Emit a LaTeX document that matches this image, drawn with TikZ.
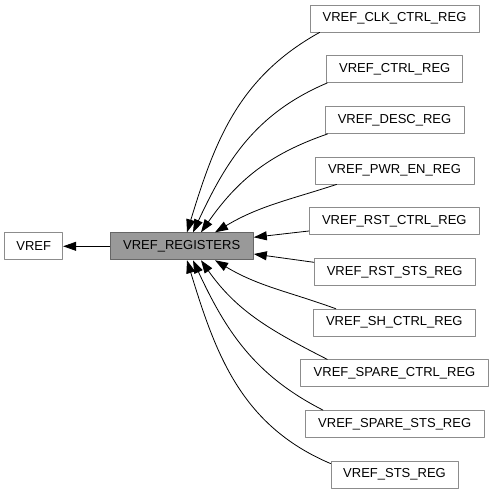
\documentclass[tikz,border=0pt]{standalone}
\usepackage{fontspec}
\setmainfont{Liberation Sans}
\usepackage{xcolor}
\usetikzlibrary{arrows.meta}
\definecolor{boxline}{RGB}{140,140,140}
\definecolor{curline}{RGB}{102,102,102}
\definecolor{curfill}{RGB}{153,153,153}
\tikzset{
  every picture/.style={line join=round, line cap=round, >=Stealth},
  grpbox/.style={draw=boxline, fill=white, line width=0.9pt, minimum height=27pt, inner sep=0pt, font=\fontsize{13}{15}\selectfont},
  curgrp/.style={grpbox, draw=curline, fill=curfill},
  grpedge/.style={-{Triangle[length=13pt,width=9pt]}, line width=0.8pt},
}

\begin{document}
\begin{tikzpicture}[x=1pt,y=1pt]
\useasboundingbox (0,0) rectangle (494,493);
\node[grpbox, minimum width=58pt] (vref) at (33.7,246.7) {VREF};
\node[curgrp, minimum width=143.3pt] (regs) at (181.7,246.7) {VREF\_REGISTERS};
\node[grpbox, minimum width=169pt] (clk) at (394.5,474.5) {VREF\_CLK\_CTRL\_REG};
\node[grpbox, minimum width=136pt] (ctrl) at (394.7,424) {VREF\_CTRL\_REG};
\node[grpbox, minimum width=139pt] (desc) at (394.5,373) {VREF\_DESC\_REG};
\node[grpbox, minimum width=159pt] (pwr) at (394.5,322.5) {VREF\_PWR\_EN\_REG};
\node[grpbox, minimum width=170pt] (rstc) at (394.3,272) {VREF\_RST\_CTRL\_REG};
\node[grpbox, minimum width=160.7pt] (rsts) at (394.7,221) {VREF\_RST\_STS\_REG};
\node[grpbox, minimum width=162pt] (sh) at (394.3,170.3) {VREF\_SH\_CTRL\_REG};
\node[grpbox, minimum width=187.6pt] (sparec) at (394.5,119.7) {VREF\_SPARE\_CTRL\_REG};
\node[grpbox, minimum width=178.7pt] (spares) at (394.7,69) {VREF\_SPARE\_STS\_REG};
\node[grpbox, minimum width=127pt] (sts) at (394.5,18.5) {VREF\_STS\_REG};
\draw[grpedge] (regs.west) -- (vref.east);
\draw[grpedge] ([xshift=10pt]clk.south west) to[out=209,in=73] ([xshift=5.3pt]regs.north);
\draw[grpedge] ([xshift=1pt]ctrl.south west) to[out=203,in=65] ([xshift=11.3pt]regs.north);
\draw[grpedge] ([xshift=3pt]desc.south west) to[out=199,in=55] ([xshift=19.3pt]regs.north);
\draw[grpedge] ([xshift=22pt]pwr.south west) to[out=198,in=31] ([xshift=33.3pt]regs.north);
\draw[grpedge] ([yshift=-10pt]rstc.west) -- ([yshift=9pt]regs.east);
\draw[grpedge] ([yshift=9.7pt]rsts.west) -- ([yshift=-7.7pt]regs.east);
\draw[grpedge] ([xshift=23pt]sh.north west) to[out=160,in=-31] ([xshift=33.3pt]regs.south);
\draw[grpedge] ([xshift=27pt]sparec.north west) to[out=153,in=-55] ([xshift=19.3pt]regs.south);
\draw[grpedge] ([xshift=18pt]spares.north west) to[out=153,in=-65] ([xshift=11.3pt]regs.south);
\draw[grpedge] ([yshift=-3pt]sts.north west) to[out=157,in=-73] ([xshift=5.3pt]regs.south);
\end{tikzpicture}
\end{document}
